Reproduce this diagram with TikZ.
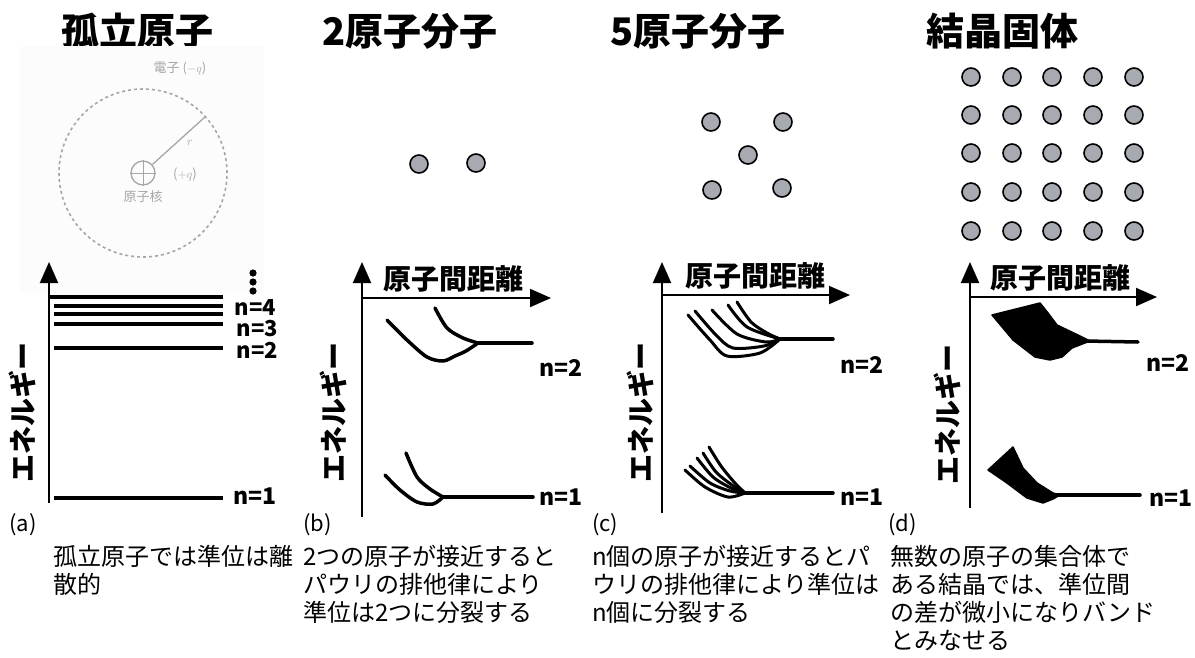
\documentclass[tikz,border=0pt]{standalone}
\usepackage{fontspec}
\setmainfont{Noto Sans CJK JP}
\usepackage{tikz}
\usetikzlibrary{arrows.meta}
\definecolor{atomgray}{RGB}{168,170,178}

\begin{document}
\begin{tikzpicture}[x=1pt,y=-1pt,
	axis/.style={line width=2pt,-{Triangle[length=21pt,width=18pt]}},
	level/.style={line width=4pt},
	curve/.style={line width=3.5pt,line join=round,line cap=round},
	band/.style={fill=black,draw=black,line width=1.5pt,line join=round},
	atom/.style={circle,draw=black,line width=1.6pt,fill=atomgray,minimum size=18pt,inner sep=0pt},
	faint/.style={gray!70},
	title/.style={font=\fontsize{38}{44}\selectfont\bfseries},
	axlabel/.style={font=\fontsize{28}{32}\selectfont\bfseries},
	nlabel/.style={font=\fontsize{23}{26}\selectfont\bfseries},
	tag/.style={font=\fontsize{22}{24}\selectfont,anchor=west,inner sep=0pt},
	caption/.style={font=\fontsize{24}{28}\selectfont,align=left,anchor=north west,inner sep=0pt}]
\useasboundingbox (0,0) rectangle (1195,657);

\node[title] (Ta) at (137,31) {孤立原子};
\node[title] (Tb) at (410,31) {2原子分子};
\node[title] (Tc) at (698,31) {5原子分子};
\node[title] (Td) at (1002,31) {結晶固体};

% (a) atom model
\fill[black!1.2] (20,46) rectangle (264,293);
\draw[faint,line width=1.6pt,dash pattern=on 3pt off 3pt] (143,173) circle[radius=84pt];
\node[circle,draw=gray!70,line width=1.3pt,minimum size=24pt,inner sep=0pt] (nuc) at (143,173) {};
\draw[faint,line width=1pt] (nuc.west) -- (nuc.east) (nuc.north) -- (nuc.south);
\coordinate (elec) at (205,117);
\draw[faint,line width=1.3pt] (nuc) -- (elec);
\node[faint,font=\fontsize{13}{15}\selectfont] (lel) at (180,68) {電子 ($-q$)};
\node[faint,font=\fontsize{13}{15}\selectfont] (lnq) at (185,174) {($+q$)};
\node[faint,font=\fontsize{13}{15}\selectfont] (lnuc) at (143,197) {原子核};
\node[faint,font=\fontsize{12}{14}\selectfont] (lr) at (190,143) {$r$};

\coordinate (aO) at (49,503); \coordinate (aY) at (49,262);
\draw[axis] (aO) -- (aY);
\draw[level] (50,297) -- (223,297);
\foreach \y in {306,314,324,348,498}
	\draw[level] (54,\y) -- (223,\y);
\foreach \y in {273,282,291}
	\fill (253,\y) circle[radius=3.6pt];
\node[nlabel,anchor=west,font=\fontsize{22}{24}\selectfont\bfseries] (a4) at (231,308) {n=4};
\node[nlabel,anchor=west,font=\fontsize{22}{24}\selectfont\bfseries] (a3) at (233,329) {n=3};
\node[nlabel,anchor=west,font=\fontsize{22}{24}\selectfont\bfseries] (a2) at (233,350) {n=2};
\node[nlabel,anchor=west] (a1) at (230,496) {n=1};
\node[axlabel,rotate=90] (Ea) at (22,412) {エネルギー};

% (b) two atoms
\node[atom] (b1) at (419,164) {};
\node[atom] (b2) at (476,163) {};
\coordinate (bO) at (362,517); \coordinate (bY) at (362,262);
\coordinate (bX0) at (362,298); \coordinate (bX) at (551,298);
\draw[axis] (bO) -- (bY);
\draw[axis] (bX0) -- (bX);
\node[axlabel] (Db) at (453,279) {原子間距離};
\node[axlabel,rotate=90] (Eb) at (333,412) {エネルギー};
\draw[curve] plot[smooth] coordinates {(387,320) (407,340) (427,357) (443,361) (455,356) (466,351) (478,343)};
\draw[curve] plot[smooth] coordinates {(435,308) (447,328) (463,338) (478,343)};
\draw[curve] (478,343) -- (532,343);
\draw[curve] plot[smooth] coordinates {(385,475) (400,490) (417,502) (433,504) (443,497)};
\draw[curve] plot[smooth] coordinates {(406,453) (417,477) (430,489) (443,497)};
\draw[curve] (443,497) -- (533,497);
\node[nlabel] (b2n) at (561,368) {n=2};
\node[nlabel] (b1n) at (561,497) {n=1};

% (c) five atoms
\foreach \p [count=\i] in {(711,122),(783,122),(748,155),(712,190),(782,188)}
	\node[atom] (c\i) at \p {};
\coordinate (cO) at (662,513); \coordinate (cY) at (662,262);
\coordinate (cX0) at (662,295); \coordinate (cX) at (850,295);
\draw[axis] (cO) -- (cY);
\draw[axis] (cX0) -- (cX);
\node[axlabel] (Dc) at (755,276) {原子間距離};
\node[axlabel,rotate=90] (Ec) at (640,412) {エネルギー};
\begin{scope}[curve,line width=3pt]
\draw plot[smooth] coordinates {(688,315) (710,340) (727,356) (760,353) (780,339)};
\draw plot[smooth] coordinates {(695,311) (716,335) (733,348) (764,346) (780,339)};
\draw plot[smooth] coordinates {(712,310) (737,334) (766,342) (780,339)};
\draw plot[smooth] coordinates {(728,305) (747,327) (780,339)};
\draw plot[smooth] coordinates {(737,302) (751,322) (767,333) (780,339)};
\draw plot[smooth] coordinates {(685,470) (705,487) (728,497) (745,493)};
\draw plot[smooth] coordinates {(690,466) (710,483) (730,491) (745,493)};
\draw plot[smooth] coordinates {(697,458) (713,477) (731,488) (745,493)};
\draw plot[smooth] coordinates {(703,453) (716,472) (732,485) (745,493)};
\draw plot[smooth] coordinates {(709,447) (721,466) (734,482) (745,493)};
\end{scope}
\draw[curve] (780,339) -- (833,339);
\draw[curve] (745,493) -- (833,493);
\node[nlabel] (c2n) at (862,365) {n=2};
\node[nlabel] (c1n) at (862,497) {n=1};

% (d) crystal
\foreach \x in {971,1012,1052,1093,1134}
	\foreach \y in {77,115,153,192,231}
		\node[atom] (d-\x-\y) at (\x,\y) {};
\coordinate (dO) at (970,508); \coordinate (dY) at (970,262);
\coordinate (dX0) at (970,297); \coordinate (dX) at (1157,297);
\draw[axis] (dO) -- (dY);
\draw[axis] (dX0) -- (dX);
\node[axlabel] (Dd) at (1060,278) {原子間距離};
\node[axlabel,rotate=90] (Ed) at (947,414) {エネルギー};
\draw[band] (992,315) -- (1040,303) -- (1048,313) -- (1057,325) -- (1080,336) -- (1090,341)
	-- (1072,348) -- (1062,357) -- (1050,360) -- (1035,357) -- (1013,340) -- cycle;
\draw[curve] (1085,341) -- (1138,342);
\draw[band] (988,470) -- (1013,447) -- (1023,468) -- (1037,483) -- (1053,493) -- (1060,495)
	-- (1053,499) -- (1043,503) -- (1027,498) -- (1007,483) -- cycle;
\draw[curve] (1055,495) -- (1140,495);
\node[nlabel] (d2n) at (1168,363) {n=2};
\node[nlabel] (d1n) at (1171,498) {n=1};

% captions
\node[tag] (ta) at (9,525) {(a)};
\node[caption] (ka) at (53,545) {孤立原子では準位は離\\散的};
\node[tag] (tb) at (303,525) {(b)};
\node[caption] (kb) at (303,545) {2つの原子が接近すると\\パウリの排他律により\\準位は2つに分裂する};
\node[tag] (tc) at (592,525) {(c)};
\node[caption] (kc) at (592,545) {n個の原子が接近するとパ\\ウリの排他律により準位は\\n個に分裂する};
\node[tag] (td) at (888,525) {(d)};
\node[caption] (kd) at (890,545) {無数の原子の集合体で\\ある結晶では、準位間\\の差が微小になりバンド\\とみなせる};
\end{tikzpicture}
\end{document}
